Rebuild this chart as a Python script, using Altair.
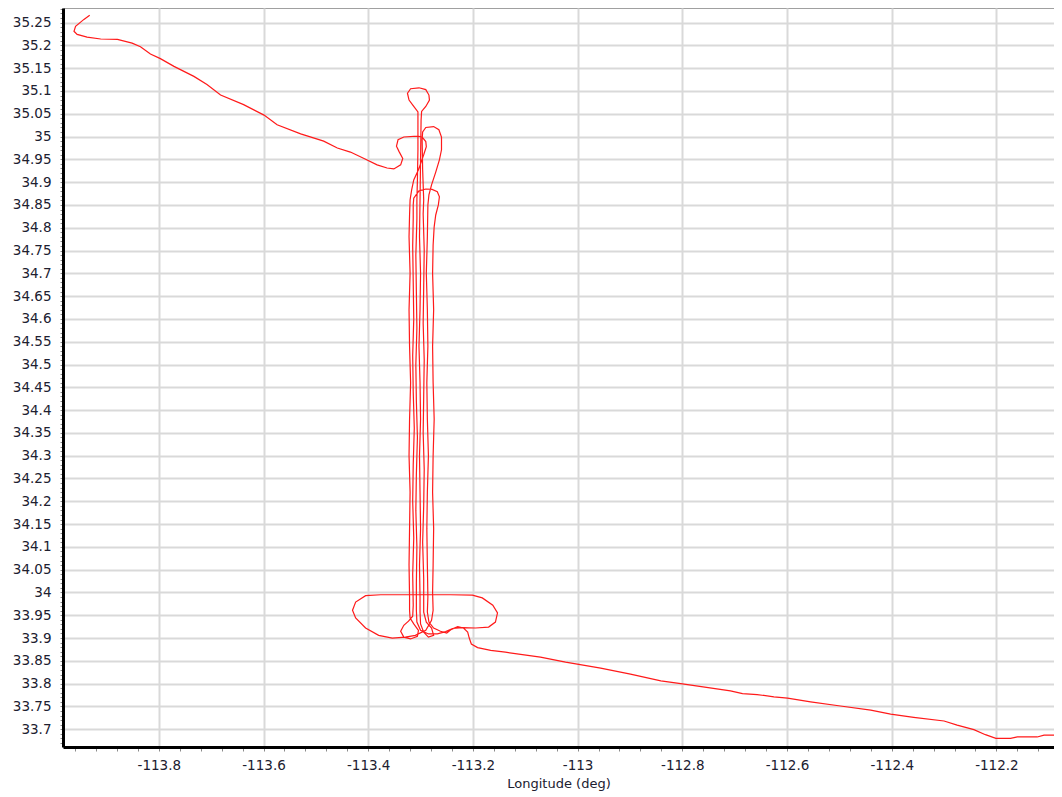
import altair as alt
import pandas as pd

# ---- flight track (longitude / latitude in degrees) ----
entry_lon = [-113.932, -113.943, -113.959, -113.962, -113.956, -113.937, -113.911, -113.879,
             -113.851, -113.835, -113.816, -113.797, -113.771, -113.733, -113.708, -113.682,
             -113.638, -113.599, -113.574, -113.529, -113.485, -113.459, -113.434, -113.408,
             -113.383, -113.364, -113.351, -113.338, -113.334, -113.341, -113.346, -113.343,
             -113.332, -113.306, -113.297, -113.290, -113.289, -113.294, -113.304, -113.313,
             -113.317, -113.320, -113.321]
entry_lat = [35.266, 35.257, 35.242, 35.231, 35.224, 35.218, 35.214, 35.213,
             35.205, 35.197, 35.181, 35.171, 35.154, 35.132, 35.114, 35.091,
             35.070, 35.047, 35.026, 35.006, 34.990, 34.975, 34.966, 34.952,
             34.938, 34.931, 34.929, 34.938, 34.952, 34.967, 34.979, 34.993,
             34.999, 35.001, 34.999, 34.989, 34.978, 34.960, 34.927, 34.905,
             34.883, 34.861, 34.828]

leg_a_lon = [-113.322, -113.320, -113.322, -113.321, -113.319, -113.321, -113.322, -113.320,
             -113.321, -113.322, -113.321]
leg_a_lat = [34.78, 34.70, 34.62, 34.54, 34.46, 34.38, 34.30, 34.22, 34.14, 34.06, 33.99]

turn_ab_lon = [-113.321, -113.320, -113.313, -113.304, -113.306, -113.319, -113.332, -113.338,
               -113.332, -113.323, -113.315, -113.314]
turn_ab_lat = [33.961, 33.944, 33.931, 33.917, 33.904, 33.898, 33.902, 33.915,
               33.928, 33.937, 33.948, 33.972]

leg_b_lon = [-113.315, -113.313, -113.315, -113.314, -113.312, -113.314, -113.315, -113.313,
             -113.314, -113.315, -113.314, -113.314]
leg_b_lat = [34.04, 34.12, 34.20, 34.28, 34.36, 34.44, 34.52, 34.60, 34.68, 34.76, 34.82, 34.850]

loop_bg_lon = [-113.313, -113.303, -113.290, -113.278, -113.268, -113.264, -113.266, -113.271,
               -113.274, -113.276]
loop_bg_lat = [34.865, 34.881, 34.885, 34.884, 34.879, 34.868, 34.850, 34.828, 34.802, 34.762]

leg_g_lon = [-113.277, -113.275, -113.277, -113.276, -113.274, -113.276, -113.277, -113.275,
             -113.276, -113.277]
leg_g_lat = [34.70, 34.62, 34.54, 34.46, 34.38, 34.30, 34.22, 34.14, 34.06, 34.00]

big_loop_lon = [-113.276, -113.279, -113.290, -113.310, -113.329, -113.354, -113.380, -113.405,
                -113.424, -113.430, -113.424, -113.405, -113.376, -113.243, -113.201, -113.182,
                -113.162, -113.153, -113.157, -113.170, -113.195, -113.220, -113.239, -113.252,
                -113.268, -113.285, -113.300, -113.307, -113.308]
big_loop_lat = [33.961, 33.939, 33.917, 33.906, 33.902, 33.900, 33.906, 33.922,
                33.944, 33.961, 33.979, 33.993, 33.995, 33.995, 33.994, 33.988,
                33.972, 33.955, 33.935, 33.924, 33.922, 33.923, 33.921, 33.914,
                33.909, 33.909, 33.917, 33.935, 33.961]

leg_c_lon = [-113.308, -113.307, -113.309, -113.308, -113.306, -113.308, -113.309, -113.307,
             -113.308, -113.309, -113.307, -113.307, -113.306, -113.305, -113.305]
leg_c_lat = [34.02, 34.10, 34.18, 34.26, 34.34, 34.42, 34.50, 34.58,
             34.66, 34.74, 34.82, 34.861, 34.905, 34.971, 35.054]

teardrop_lon = [-113.313, -113.322, -113.325, -113.319, -113.303, -113.290, -113.284, -113.283,
                -113.290, -113.298, -113.299, -113.300, -113.301]
teardrop_lat = [35.066, 35.080, 35.095, 35.105, 35.107, 35.103, 35.091, 35.080,
                35.066, 35.055, 35.036, 34.949, 34.861]

leg_d_lon = [-113.302, -113.300, -113.301, -113.303, -113.301, -113.300, -113.302, -113.301,
             -113.300, -113.302, -113.301]
leg_d_lat = [34.78, 34.70, 34.62, 34.54, 34.46, 34.38, 34.30, 34.22, 34.14, 34.06, 33.99]

turn_de_lon = [-113.301, -113.300, -113.294, -113.285, -113.275, -113.279, -113.289, -113.294]
turn_de_lat = [33.957, 33.931, 33.913, 33.902, 33.906, 33.922, 33.935, 33.957]

leg_e_lon = [-113.294, -113.296, -113.294, -113.293, -113.295, -113.294, -113.293, -113.295,
             -113.294, -113.293, -113.295, -113.294, -113.296, -113.297, -113.296]
leg_e_lat = [34.03, 34.11, 34.19, 34.27, 34.35, 34.43, 34.51, 34.59,
             34.67, 34.75, 34.83, 34.861, 34.927, 34.993, 35.010]

loop_ef_lon = [-113.290, -113.275, -113.265, -113.260, -113.260, -113.264, -113.271, -113.279,
               -113.284, -113.286]
loop_ef_lat = [35.020, 35.022, 35.015, 34.999, 34.971, 34.949, 34.922, 34.894, 34.872, 34.850]

leg_f_lon = [-113.287, -113.289, -113.287, -113.286, -113.288, -113.287, -113.285, -113.287,
             -113.288, -113.287, -113.286]
leg_f_lat = [34.78, 34.70, 34.62, 34.54, 34.46, 34.38, 34.30, 34.22, 34.14, 34.06, 33.99]

exit_lon = [-113.287, -113.284, -113.275, -113.262, -113.250, -113.241, -113.229, -113.218,
            -113.210, -113.207, -113.203, -113.191, -113.166, -113.138, -113.071, -113.023,
            -112.956, -112.899, -112.841, -112.803, -112.708, -112.685, -112.657, -112.625,
            -112.599, -112.555, -112.498, -112.440, -112.402, -112.358, -112.300, -112.275,
            -112.243, -112.221, -112.201, -112.173, -112.160, -112.122, -112.109, -112.078]
exit_lat = [33.957, 33.935, 33.922, 33.915, 33.911, 33.919, 33.925, 33.922,
            33.913, 33.900, 33.887, 33.879, 33.873, 33.869, 33.858, 33.847,
            33.834, 33.821, 33.806, 33.800, 33.784, 33.778, 33.776, 33.771,
            33.768, 33.760, 33.751, 33.742, 33.733, 33.726, 33.718, 33.709,
            33.699, 33.688, 33.680, 33.680, 33.683, 33.683, 33.687, 33.687]

segments = [
    (entry_lon, entry_lat), (leg_a_lon, leg_a_lat), (turn_ab_lon, turn_ab_lat),
    (leg_b_lon, leg_b_lat), (loop_bg_lon, loop_bg_lat), (leg_g_lon, leg_g_lat),
    (big_loop_lon, big_loop_lat), (leg_c_lon, leg_c_lat), (teardrop_lon, teardrop_lat),
    (leg_d_lon, leg_d_lat), (turn_de_lon, turn_de_lat), (leg_e_lon, leg_e_lat),
    (loop_ef_lon, loop_ef_lat), (leg_f_lon, leg_f_lat), (exit_lon, exit_lat),
]
lon, lat = [], []
for a, b in segments:
    lon += a
    lat += b
df = pd.DataFrame({"lon": lon, "lat": lat, "i": list(range(len(lon)))})

# ---- axes: tick positions (minor ticks every 0.04 / 0.01, labels every 0.2 / 0.05) ----
x_domain = [-113.983, -112.090]
y_domain = [33.661, 35.282]
x_ticks = [round(-113.96 + 0.04 * k, 2) for k in range(47)]
y_ticks = [round(33.67 + 0.01 * k, 2) for k in range(162)]

x_major = "abs(round(datum.value*100)) % 20 == 0"
y_major = "abs(round(datum.value*100)) % 5 == 0"

FONT = "DejaVu Sans"
TXT = "#202030"

x_axis = alt.Axis(
    values=x_ticks,
    labelExpr=f"{x_major} ? '' + datum.value : ''",
    grid=True, gridColor="#d9d9d9", gridWidth=2,
    gridOpacity={"condition": {"test": x_major, "value": 1}, "value": 0},
    ticks=True, tickColor="#8a8a8a", tickSize=4, tickWidth=1,
    domain=True, domainColor="#000000", domainWidth=3,
    labelFont=FONT, labelFontSize=13.5, labelColor=TXT, labelPadding=7,
    labelOverlap=False, labelFlush=False,
    title="Longitude (deg)", titleFont=FONT, titleFontSize=13,
    titleFontWeight="normal", titleColor=TXT, titlePadding=6,
)
y_axis = alt.Axis(
    values=y_ticks,
    labelExpr=f"{y_major} ? '' + datum.value : ''",
    grid=True, gridColor="#d9d9d9", gridWidth=2,
    gridOpacity={"condition": {"test": y_major, "value": 1}, "value": 0},
    ticks=True, tickColor="#8a8a8a", tickSize=3, tickWidth=1,
    domain=True, domainColor="#000000", domainWidth=3,
    labelFont=FONT, labelFontSize=13.5, labelColor=TXT, labelPadding=9,
    labelOverlap=False, labelFlush=False,
)

chart = (
    alt.Chart(df)
    .mark_line(color="#ff1a1a", strokeWidth=1.2, clip=True)
    .encode(
        x=alt.X("lon:Q", scale=alt.Scale(domain=x_domain, zero=False, nice=False), axis=x_axis),
        y=alt.Y("lat:Q", scale=alt.Scale(domain=y_domain, zero=False, nice=False), axis=y_axis, title=None),
        order=alt.Order("i:Q"),
    )
    .properties(
        width=991, height=739,
        autosize=alt.AutoSizeParams(type="none"),
        padding={"left": 55, "top": 0, "right": 0, "bottom": 44},
        background="white",
    )
    .configure_view(stroke="#a0a0a0", strokeWidth=1)
)

chart.save("out.html", embed_options={"renderer": "svg", "actions": False})
